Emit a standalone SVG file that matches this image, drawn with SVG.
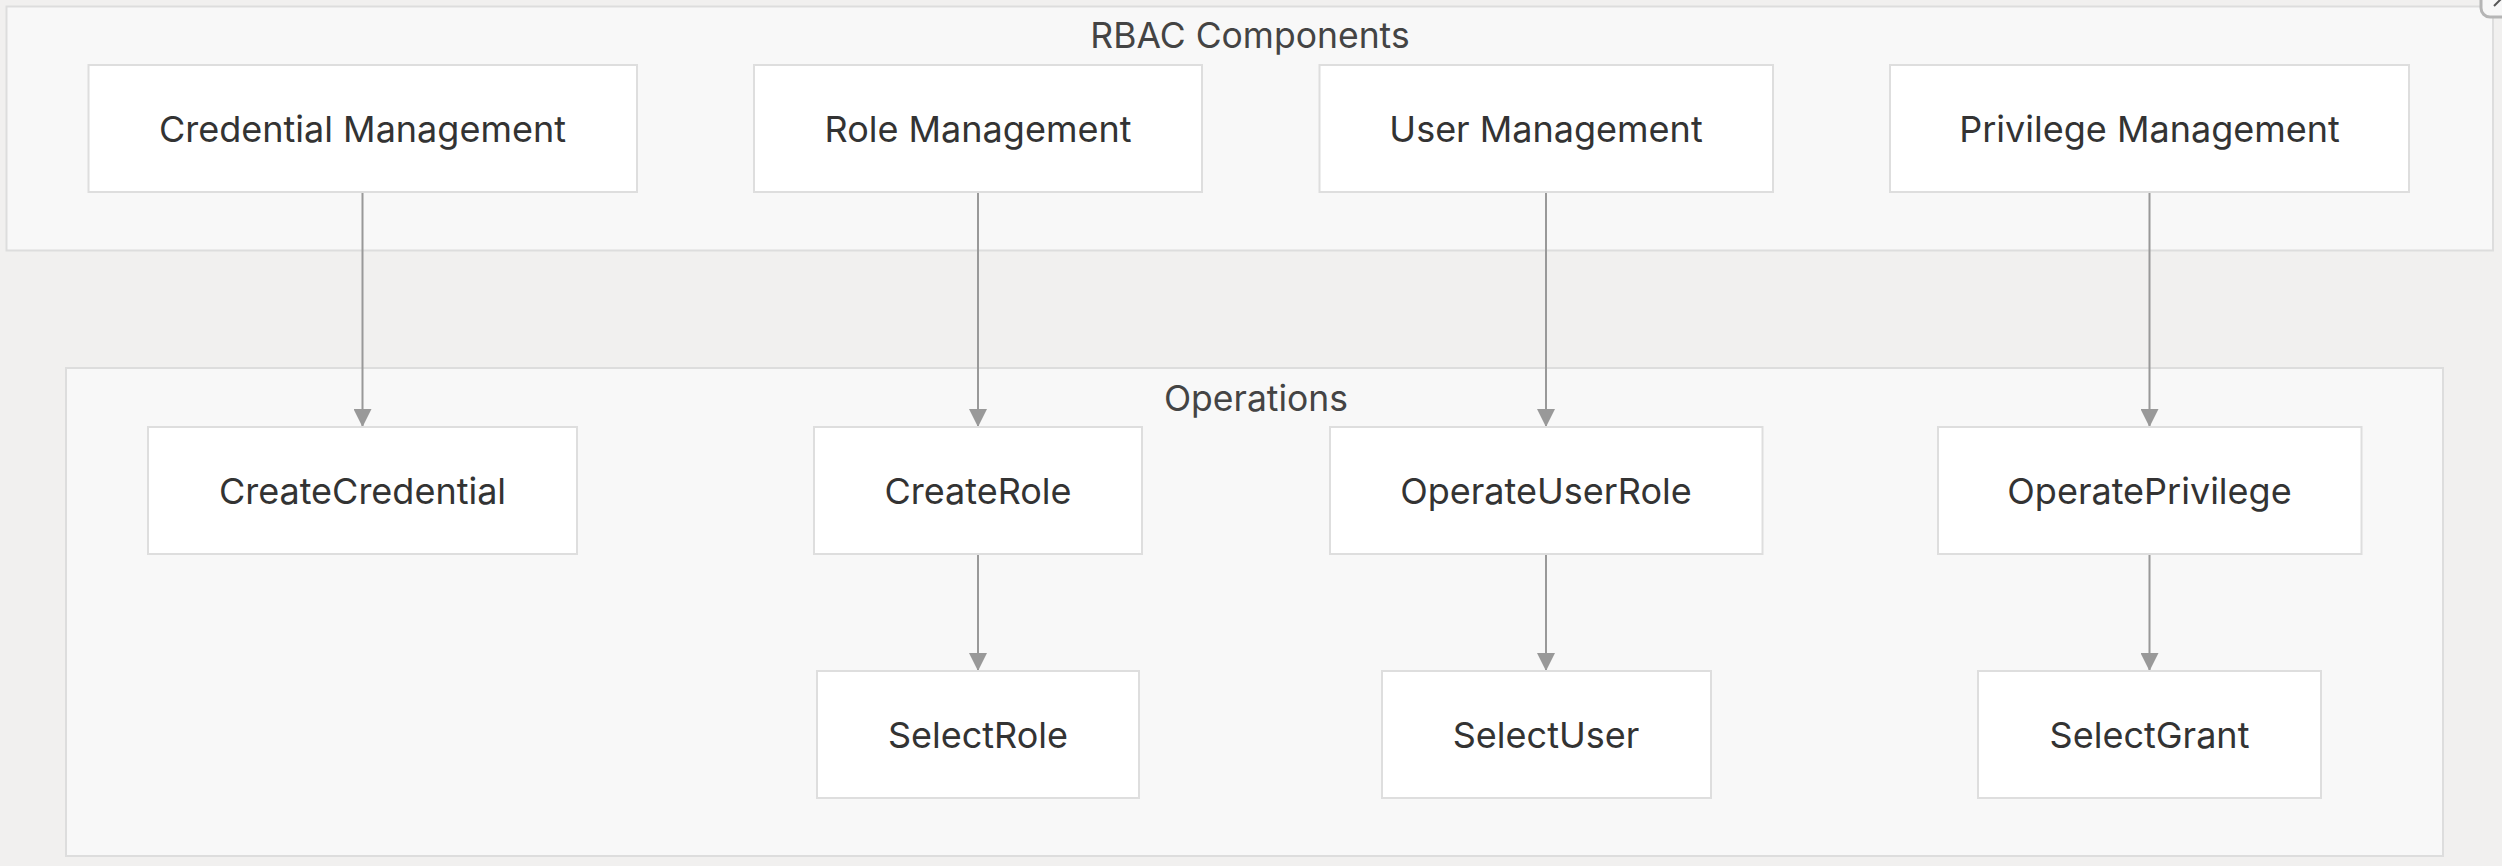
<svg xmlns="http://www.w3.org/2000/svg" width="2502" height="866" viewBox="0 0 2502 866">
<defs>
<style>
.cluster{fill:#f8f8f8;stroke:#dddddd;stroke-width:2}
.node rect{fill:#ffffff;stroke:#dedede;stroke-width:2}
.lbl{font-family:Inter,"Liberation Sans",sans-serif;font-size:36px;fill:#333333;text-anchor:middle}
.clbl{font-family:Inter,"Liberation Sans",sans-serif;font-size:35.5px;fill:#444444;text-anchor:middle}
.edge{stroke:#999999;stroke-width:2;fill:none;marker-end:url(#arr)}
</style>
<marker id="arr" viewBox="0 0 18 18" refX="18" refY="9" markerWidth="18" markerHeight="18" markerUnits="userSpaceOnUse" orient="auto">
<path d="M0,0 L18,9 L0,18 Z" fill="#999999"/>
</marker>
</defs>
<rect width="2502" height="866" fill="#f1f0ef"/>
<g id="cluster-rbac">
<rect class="cluster" x="6.5" y="6.5" width="2486.5" height="244"/>
<text class="clbl" x="1250" y="48">RBAC Components</text>
</g>
<g id="cluster-operations">
<rect class="cluster" x="66" y="368" width="2377" height="488"/>
<text class="clbl" x="1256" y="411">Operations</text>
</g>
<g id="connectors">
<line class="edge" x1="362.5" y1="193" x2="362.5" y2="427"/>
<line class="edge" x1="978" y1="193" x2="978" y2="427"/>
<line class="edge" x1="1546" y1="193" x2="1546" y2="427"/>
<line class="edge" x1="2149.5" y1="193" x2="2149.5" y2="427"/>
<line class="edge" x1="978" y1="555" x2="978" y2="671"/>
<line class="edge" x1="1546" y1="555" x2="1546" y2="671"/>
<line class="edge" x1="2149.5" y1="555" x2="2149.5" y2="671"/>
</g>
<g id="node-credential-management" class="node">
<rect x="88.5" y="65" width="548.5" height="127"/>
<text class="lbl" x="362.5" y="142">Credential Management</text>
</g>
<g id="node-role-management" class="node">
<rect x="754" y="65" width="448" height="127"/>
<text class="lbl" x="978" y="142">Role Management</text>
</g>
<g id="node-user-management" class="node">
<rect x="1319.5" y="65" width="453.5" height="127"/>
<text class="lbl" x="1546" y="142">User Management</text>
</g>
<g id="node-privilege-management" class="node">
<rect x="1890" y="65" width="519" height="127"/>
<text class="lbl" x="2149.5" y="142">Privilege Management</text>
</g>
<g id="node-createcredential" class="node">
<rect x="148" y="427" width="429" height="127"/>
<text class="lbl" x="362.5" y="504">CreateCredential</text>
</g>
<g id="node-createrole" class="node">
<rect x="814" y="427" width="328" height="127"/>
<text class="lbl" x="978" y="504">CreateRole</text>
</g>
<g id="node-operateuserrole" class="node">
<rect x="1330" y="427" width="432.5" height="127"/>
<text class="lbl" x="1546" y="504">OperateUserRole</text>
</g>
<g id="node-operateprivilege" class="node">
<rect x="1938" y="427" width="423.5" height="127"/>
<text class="lbl" x="2149.5" y="504">OperatePrivilege</text>
</g>
<g id="node-selectrole" class="node">
<rect x="817" y="671" width="322" height="127"/>
<text class="lbl" x="978" y="748">SelectRole</text>
</g>
<g id="node-selectuser" class="node">
<rect x="1382" y="671" width="329" height="127"/>
<text class="lbl" x="1546" y="748">SelectUser</text>
</g>
<g id="node-selectgrant" class="node">
<rect x="1978" y="671" width="343" height="127"/>
<text class="lbl" x="2149.5" y="748">SelectGrant</text>
</g>
<g id="corner-button">
<rect x="2481" y="-22" width="44" height="39" rx="9" fill="#f7f7f7" stroke="#b5b5b5" stroke-width="3"/>
<line x1="2494" y1="6" x2="2502" y2="-2" stroke="#555555" stroke-width="2"/>
</g>
</svg>
